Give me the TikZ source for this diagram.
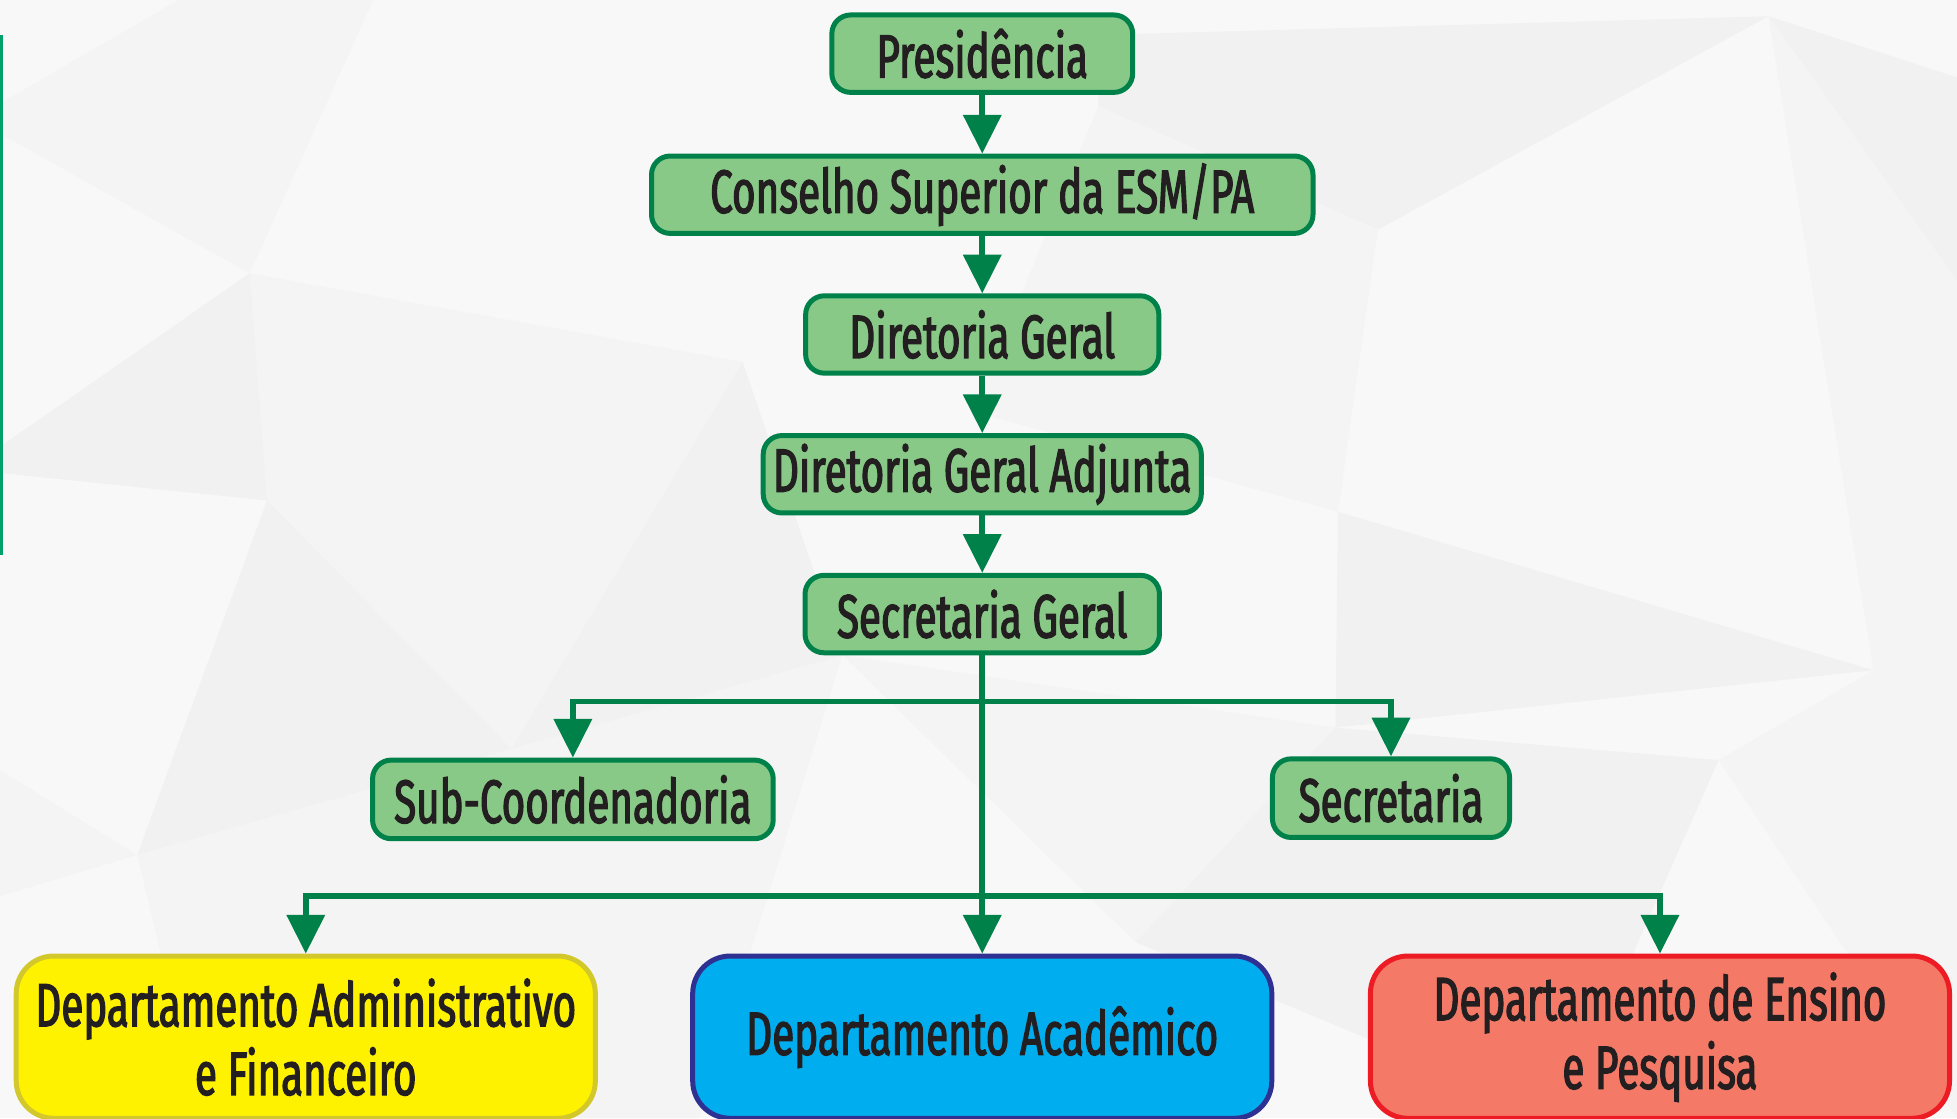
\documentclass[tikz,border=0pt]{standalone}
\usepackage{fontspec}
\setmainfont{Fira Sans}[FakeStretch=0.66,FakeBold=2]
\usetikzlibrary{arrows.meta}
\definecolor{bg}{HTML}{F8F8F8}
\definecolor{bgA}{HTML}{F1F1F1}
\definecolor{bgB}{HTML}{F4F4F4}
\definecolor{gfill}{HTML}{88C987}
\definecolor{gline}{HTML}{00814A}
\definecolor{txt}{HTML}{231F20}
\definecolor{yfill}{HTML}{FFF200}
\definecolor{yline}{HTML}{D2C82C}
\definecolor{bfill}{HTML}{00AEEF}
\definecolor{bline}{HTML}{2E3192}
\definecolor{rfill}{HTML}{F47A67}
\definecolor{rline}{HTML}{ED1C24}
\definecolor{barc}{HTML}{00A06C}
\begin{document}
\begin{tikzpicture}[x=1pt,y=-1pt,
  box/.style={rounded corners=15pt, line width=4pt, draw=gline, fill=gfill, text=txt,
    inner sep=0pt, minimum height=62pt, font=\fontsize{49}{55}\selectfont, align=center},
  big/.style={box, minimum height=130pt, minimum width=464pt, rounded corners=30pt},
  conn/.style={draw=gline, line width=4.5pt, -{Triangle[width=30pt,length=31pt]}},
  plain/.style={draw=gline, line width=4pt}
]
\useasboundingbox (0,0) rectangle (1568,896);
% background
\fill[bg] (0,0) rectangle (1568,896);
\fill[bgB] (0,83) -- (143,0) -- (299,0) -- (200,219) -- (0,107) -- cycle;
\fill[bgB] (200,219) -- (595,290) -- (214,401) -- cycle;
\fill[bgA] (0,358) -- (200,219) -- (214,401) -- (0,379) -- cycle;
\fill[bgB] (214,401) -- (595,290) -- (410,600) -- cycle;
\fill[bgA] (214,401) -- (410,600) -- (110,685) -- cycle;
\fill[bgB] (0,617) -- (110,685) -- (0,718) -- cycle;
\fill[bgB] (110,685) -- (410,600) -- (675,525) -- (560,896) -- (160,896) -- cycle;
\fill[bgA] (595,290) -- (675,525) -- (410,600) -- cycle;
\fill[bgB] (675,525) -- (1070,583) -- (910,755) -- cycle;
\fill[bgA] (880,28) -- (1417,13) -- (1104,184) -- (880,85) -- cycle;
\fill[bgA] (1417,13) -- (1568,62) -- (1568,225) -- cycle;
\fill[bgB] (1417,13) -- (1568,225) -- (1568,525) -- (1501,537) -- cycle;
\fill[bgB] (1104,184) -- (1072,410) -- (780,330) -- (880,85) -- cycle;
\fill[bgA] (1072,410) -- (1501,537) -- (1070,583) -- cycle;
\fill[bgB] (1501,537) -- (1568,525) -- (1568,896) -- (1377,609) -- cycle;
\fill[bgA] (1070,583) -- (1377,609) -- (1250,896) -- (910,755) -- cycle;
% left accent bar
\fill[barc] (0,28) rectangle (2.5,445);
% nodes
\node[box, minimum width=241pt] (pres) at (787,43) {Presidência};
\node[box, minimum width=530pt] (cons) at (787,156) {Conselho Superior da ESM/PA};
\node[box, minimum width=283pt] (dg) at (787,268) {Diretoria Geral};
\node[box, minimum width=351pt] (dga) at (787,380) {Diretoria Geral Adjunta};
\node[box, minimum width=284pt] (sg) at (787,492) {Secretaria Geral};
\node[box, minimum width=321pt, minimum height=63pt] (sub) at (459,640.5) {Sub-Coordenadoria};
\node[box, minimum width=190pt, minimum height=63pt] (sec) at (1114.5,639.5) {Secretaria};
\node[big, draw=yline, fill=yfill] (dadm) at (245,831) {Departamento Administrativo\\e Financeiro};
\node[big, draw=bline, fill=bfill] (dac) at (787,831) {Departamento Acadêmico};
\node[big, draw=rline, fill=rfill] (dens) at (1330,831) {Departamento de Ensino\\e Pesquisa};
% junctions
\coordinate (j1) at (787,562);
\coordinate (j2) at (787,718);
% connectors
\draw[conn] (pres) -- (cons);
\draw[conn] (cons) -- (dg);
\draw[conn] (dg) -- (dga);
\draw[conn] (dga) -- (sg);
\draw[conn] (sg) -- (dac);
\draw[conn] (j1) -| (sub.north);
\draw[conn] (j1) -| (sec.north);
\draw[conn] (j2) -| (dadm.north);
\draw[conn] (j2) -| (dens.north);
\end{tikzpicture}
\end{document}
